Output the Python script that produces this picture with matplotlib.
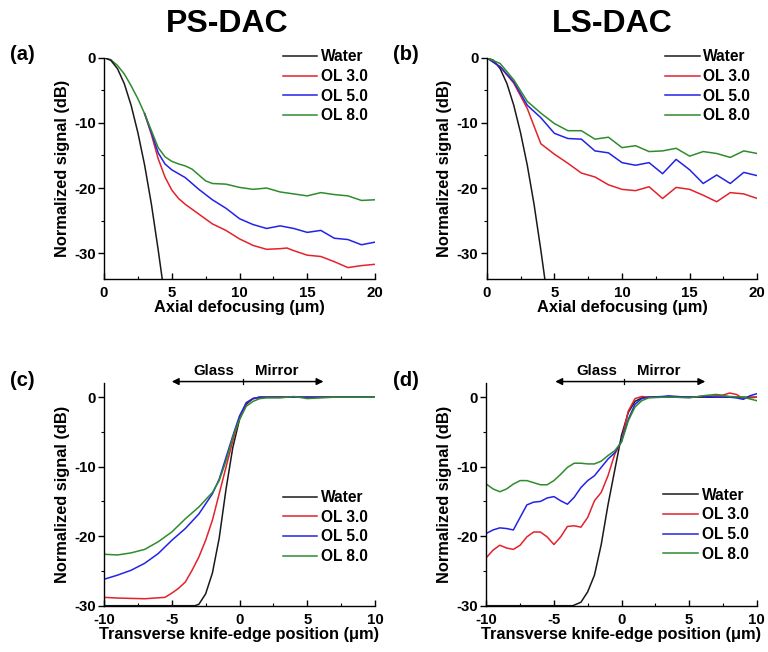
import matplotlib
matplotlib.use("Agg")
import matplotlib.pyplot as plt
from matplotlib.ticker import MultipleLocator

plt.rcParams['font.family'] = ['Liberation Sans', 'DejaVu Sans']
plt.rcParams['font.weight'] = 'bold'
plt.rcParams['mathtext.default'] = 'regular'
plt.rcParams['axes.unicode_minus'] = False

labels = ["Water", "OL 3.0", "OL 5.0", "OL 8.0"]
colors = ["#1a1a1a", "#e3222b", "#2323e6", "#2e8c2e"]

# ---------------- (a) PS-DAC axial ----------------
a_water_x = [0, 0.5, 1, 1.5, 2, 2.5, 3, 3.5, 4, 4.3]
a_water_y = [0, -0.4, -1.7, -4.0, -7.3, -11.5, -16.5, -22.5, -29.5, -34]
a_ol_x = [0, 0.5, 1, 1.5, 2, 2.5, 3]
a_ol_y = [0, -0.3, -1.2, -2.5, -4.3, -6.3, -8.6]
a_red_x = [3, 3.5, 4, 4.5, 5, 5.5, 6, 7, 8, 9, 10, 11, 12, 13, 13.5, 14, 15, 16, 17, 18, 19, 20]
a_red_y = [-8.6, -11.8, -15.5, -18.3, -20.3, -21.6, -22.5, -24.0, -25.5, -26.5, -27.8, -28.8, -29.4, -29.3, -29.2, -29.6, -30.3, -30.5, -31.3, -32.2, -31.9, -31.7]
a_blue_x = [3, 3.5, 4, 4.5, 5, 6, 7, 8, 9, 10, 11, 12, 13, 14, 15, 16, 17, 18, 19, 20]
a_blue_y = [-8.6, -11.5, -14.6, -16.3, -17.2, -18.4, -20.2, -21.8, -23.1, -24.7, -25.6, -26.2, -25.8, -26.2, -26.8, -26.5, -27.7, -27.9, -28.7, -28.3]
a_green_x = [3, 3.5, 4, 4.5, 5, 5.5, 6, 6.5, 7, 7.5, 8, 9, 10, 11, 12, 13, 14, 15, 16, 17, 18, 19, 20]
a_green_y = [-8.6, -11.2, -13.8, -15.2, -15.9, -16.3, -16.6, -17.1, -18.0, -18.9, -19.3, -19.4, -19.9, -20.2, -20.0, -20.6, -20.9, -21.2, -20.7, -21.0, -21.2, -21.9, -21.8]

# ---------------- (b) LS-DAC axial ----------------
b_x = list(range(0, 21))
b_water_x = [0, 0.5, 1, 1.5, 2, 2.5, 3, 3.5, 4, 4.3]
b_water_y = [0, -0.4, -1.7, -4.0, -7.3, -11.5, -16.5, -22.5, -29.5, -34]
b_red_y = [0, -1.4, -3.9, -7.8, -13.2, -14.8, -16.2, -17.7, -18.3, -19.5, -20.2, -20.4, -19.8, -21.6, -19.9, -20.2, -21.1, -22.1, -20.7, -20.9, -21.6]
b_blue_y = [0, -1.4, -3.7, -7.3, -9.2, -11.6, -12.4, -12.5, -14.3, -14.6, -16.1, -16.5, -16.1, -17.8, -15.6, -17.2, -19.3, -18.0, -19.3, -17.6, -18.1]
b_green_y = [0, -0.9, -3.4, -6.7, -8.5, -10.1, -11.2, -11.2, -12.5, -12.2, -13.8, -13.5, -14.4, -14.3, -13.9, -15.1, -14.4, -14.7, -15.3, -14.3, -14.7]

# ---------------- (c) PS-DAC knife edge ----------------
c_water_x = [-10, -3.3, -3, -2.5, -2, -1.5, -1, -0.5, 0, 0.5, 1, 1.5, 10]
c_water_y = [-30, -30, -29.8, -28.3, -25.3, -20.3, -13.3, -7.3, -3.2, -1.0, -0.2, 0, 0]
c_red_x = [-10, -9, -7, -5.5, -5, -4.5, -4, -3.5, -3, -2.5, -2, -1.5, -1, -0.5, 0, 0.5, 1, 1.5, 10]
c_red_y = [-28.8, -28.9, -29.0, -28.8, -28.2, -27.5, -26.6, -24.9, -23.0, -20.6, -17.7, -13.9, -10.1, -6.3, -3.0, -0.8, -0.2, 0, 0]
c_blue_x = [-10, -9, -8, -7, -6, -5, -4, -3, -2, -1.5, -1, -0.5, 0, 0.5, 1, 1.5, 10]
c_blue_y = [-26.2, -25.6, -24.9, -23.9, -22.5, -20.6, -18.9, -16.8, -13.9, -11.8, -8.7, -5.6, -2.7, -0.8, -0.2, 0, 0]
c_green_x = [-10, -9, -8, -7, -6, -5, -4, -3, -2, -1.5, -1, -0.5, 0, 0.5, 1, 1.5, 2, 3, 4, 5, 6, 7, 10]
c_green_y = [-22.6, -22.7, -22.4, -21.9, -20.8, -19.4, -17.5, -15.8, -13.7, -12.0, -9.2, -5.8, -3.2, -1.3, -0.6, -0.2, -0.1, -0.1, 0.1, -0.2, -0.1, 0, 0]

# ---------------- (d) LS-DAC knife edge ----------------
d_water_x = [-10, -3.6, -3, -2.5, -2, -1.5, -1, -0.5, 0, 0.5, 1, 1.5, 2, 10]
d_water_y = [-30, -30, -29.5, -28.0, -25.6, -21.2, -15.5, -10.5, -5.5, -2.2, -0.6, -0.1, 0, 0]
d_red_x = [-10, -9.5, -9, -8.5, -8, -7.5, -7, -6.5, -6, -5.5, -5, -4.5, -4, -3.5, -3, -2.5, -2, -1.5, -1, -0.5, 0, 0.5, 1, 1.5, 2, 3, 4, 5, 6, 7, 7.5, 8, 8.5, 9, 9.5, 10]
d_red_y = [-23.1, -22.0, -21.3, -21.7, -21.9, -21.3, -20.1, -19.4, -19.4, -20.1, -21.2, -20.1, -18.6, -18.5, -18.7, -17.3, -14.9, -13.7, -11.3, -8.2, -6.3, -2.0, -0.2, 0.1, 0, 0, 0.1, 0, 0.1, 0.2, 0.3, 0.6, 0.4, -0.2, -0.1, 0]
d_blue_x = [-10, -9.5, -9, -8.5, -8, -7.5, -7, -6.5, -6, -5.5, -5, -4.5, -4, -3.5, -3, -2.5, -2, -1.5, -1, -0.5, 0, 0.5, 1, 1.5, 2, 3, 3.5, 4, 5, 6, 7, 8, 8.5, 9, 9.5, 10]
d_blue_y = [-19.6, -19.1, -18.8, -18.9, -19.1, -17.3, -15.5, -15.1, -15.0, -14.5, -14.3, -14.9, -15.4, -14.4, -13.0, -12.0, -11.3, -10.1, -8.9, -8.0, -6.3, -3.2, -1.0, -0.2, 0, 0.1, 0.2, 0.1, 0, 0.1, 0, 0, -0.1, -0.3, 0.2, 0.5]
d_green_x = [-10, -9.5, -9, -8.5, -8, -7.5, -7, -6.5, -6, -5.5, -5, -4.5, -4, -3.5, -3, -2.5, -2, -1.5, -1, -0.5, 0, 0.5, 1, 1.5, 2, 3, 4, 5, 6, 7, 8, 9, 10]
d_green_y = [-12.5, -13.2, -13.6, -13.2, -12.5, -12.0, -12.0, -12.3, -12.6, -12.6, -12.0, -11.1, -10.1, -9.5, -9.5, -9.6, -9.6, -9.2, -8.4, -7.7, -6.5, -3.4, -1.4, -0.5, -0.1, 0, 0, -0.1, 0.2, 0.4, 0.1, 0, -0.5]

fig = plt.figure(figsize=(7.68, 6.52), dpi=100)

def mkax(rect):
    ax = fig.add_axes(rect)
    for s in ['top', 'right']:
        ax.spines[s].set_visible(False)
    for s in ['left', 'bottom']:
        ax.spines[s].set_linewidth(1.0)
    ax.tick_params(axis='y', which='major', direction='out', length=4, width=1.0, pad=2)
    ax.tick_params(axis='y', which='minor', direction='out', length=2.5, width=0.8)
    ax.tick_params(axis='x', which='major', direction='in', length=4, width=1.0, pad=5)
    ax.tick_params(axis='x', which='minor', direction='in', length=2.5, width=0.8)
    return ax

W, H = 768, 652
def rect(l, r, t, b):
    return [l / W, 1 - b / H, (r - l) / W, (b - t) / H]

ax_a = mkax(rect(104, 375, 57.7, 279.3))
ax_b = mkax(rect(486.7, 757.3, 57.7, 279.3))
ax_c = mkax(rect(104, 375, 383.3, 605.7))
ax_d = mkax(rect(486.3, 756.7, 383.3, 605.7))

lw = 1.1

def plot_set(ax, xs, ys):
    for x, y, c, l in zip(xs, ys, colors, labels):
        ax.plot(x, y, color=c, lw=lw, label=l)

# (a)
ax_a.plot(a_ol_x, a_ol_y, color=colors[3], lw=lw)
plot_set(ax_a, [a_water_x, a_red_x, a_blue_x, a_green_x], [a_water_y, a_red_y, a_blue_y, a_green_y])
# (b)
plot_set(ax_b, [b_water_x, b_x, b_x, b_x], [b_water_y, b_red_y, b_blue_y, b_green_y])
# (c)
plot_set(ax_c, [c_water_x, c_red_x, c_blue_x, c_green_x], [c_water_y, c_red_y, c_blue_y, c_green_y])
# (d)
plot_set(ax_d, [d_water_x, d_red_x, d_blue_x, d_green_x], [d_water_y, d_red_y, d_blue_y, d_green_y])

LABEL_FS = 11.8
TICK_FS = 10.8

for ax in (ax_a, ax_b):
    ax.set_xlim(0, 20)
    ax.set_ylim(-34, 0)
    ax.set_xlabel('Axial defocusing (\u03bcm)', fontsize=LABEL_FS, fontweight='bold', labelpad=0)

for ax in (ax_c, ax_d):
    ax.set_xlim(-10, 10)
    ax.set_ylim(-30, 2)
    ax.set_xlabel('Transverse knife-edge position (\u03bcm)', fontsize=LABEL_FS, fontweight='bold', labelpad=0)

for ax in (ax_a, ax_b, ax_c, ax_d):
    ax.xaxis.set_major_locator(MultipleLocator(5))
    ax.xaxis.set_minor_locator(MultipleLocator(2.5))
    ax.yaxis.set_major_locator(MultipleLocator(10))
    ax.yaxis.set_minor_locator(MultipleLocator(5))
    ax.set_ylabel('Normalized signal (dB)', fontsize=LABEL_FS, fontweight='bold', labelpad=3)
    for lab in ax.get_xticklabels() + ax.get_yticklabels():
        lab.set_fontweight('bold')
        lab.set_fontsize(TICK_FS)

def legend(ax, x, ytop):
    ax.legend(loc='upper left', bbox_to_anchor=(x, ytop), frameon=False,
              prop={'weight': 'bold', 'size': 11.2}, handlelength=2.2,
              handletextpad=0.25, labelspacing=0.3, borderpad=0, borderaxespad=0)

legend(ax_a, 0.66, 1.038)
legend(ax_b, 0.66, 1.038)
legend(ax_c, 0.66, 0.52)
legend(ax_d, 0.655, 0.53)

def arrows(ax, xl, xr, xm, xg, xmr):
    ax.annotate('', xy=(xl, 2.25), xytext=(xr, 2.25),
                arrowprops=dict(arrowstyle='<|-|>', color='black', lw=1.1,
                                mutation_scale=10, shrinkA=0, shrinkB=0),
                annotation_clip=False)
    ax.plot([xm, xm], [1.9, 2.6], color='black', lw=0.9, clip_on=False)
    ax.text(xg, 3.7, 'Glass', ha='center', va='center', fontsize=10.8, fontweight='bold')
    ax.text(xmr, 3.7, 'Mirror', ha='center', va='center', fontsize=10.8, fontweight='bold')

arrows(ax_c, -5.0, 6.2, 0.24, -1.93, 2.75)
arrows(ax_d, -4.9, 6.2, 0.18, -1.8, 2.77)

fig.text(227 / W, 1 - 24 / H, 'PS-DAC', ha='center', va='center', fontsize=23, fontweight='bold')
fig.text(612 / W, 1 - 24 / H, 'LS-DAC', ha='center', va='center', fontsize=23, fontweight='bold')

for t, (px, py) in zip(['(a)', '(b)', '(c)', '(d)'], [(22, 55), (406, 55), (22, 380), (406, 380)]):
    fig.text(px / W, 1 - py / H, t, ha='center', va='center', fontsize=14.5, fontweight='bold')

fig.savefig('out.png', dpi=100)
